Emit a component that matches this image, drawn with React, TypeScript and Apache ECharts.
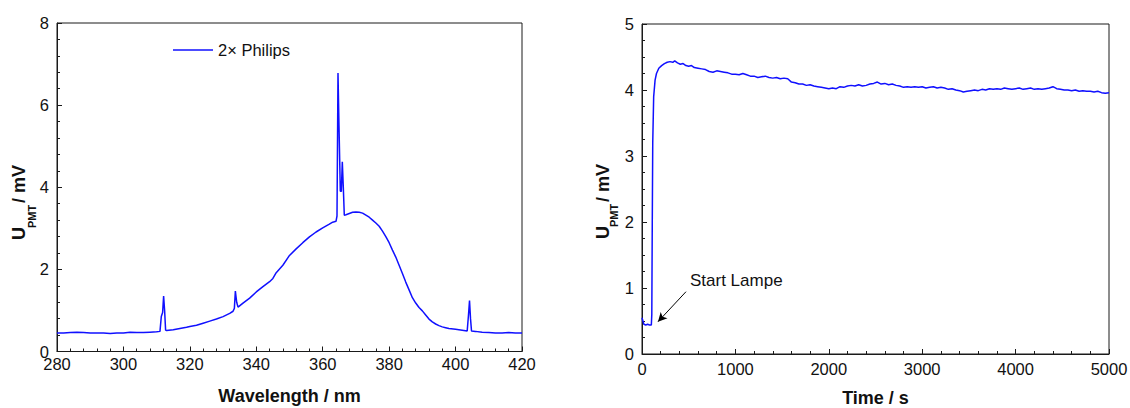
import React, { useEffect, useRef } from "react";
import * as echarts from "echarts";

// Left panel: emission spectrum
const wavelength = [
  280, 282, 284, 286, 288, 290, 292, 294, 296, 298, 300, 302, 304, 306, 308, 310, 311,
  311.4, 311.8, 312.1, 312.4, 312.7, 313, 315, 317, 319, 320, 322, 324, 326, 328, 330, 332, 333,
  333.4, 333.7, 334.1, 334.5, 336, 338, 340, 342, 344, 345, 346, 348, 350, 352, 354, 356, 358,
  360, 362, 363, 364, 364.3, 364.6, 364.9, 365.3, 365.6, 365.9, 366.2, 366.5, 367, 368, 369, 370,
  371, 372, 373, 374, 375, 376, 377, 378, 379, 380, 381, 382, 383, 384, 385, 386, 387, 388, 389,
  390, 391, 392, 393, 394, 395, 396, 397, 398, 400, 402, 403.5, 403.9, 404.2, 404.5, 404.8, 406,
  408, 410, 412, 414, 416, 418, 420,
];
const signal = [
  0.45, 0.45, 0.46, 0.47, 0.46, 0.45, 0.45, 0.45, 0.44, 0.45, 0.45, 0.47, 0.46, 0.46, 0.47, 0.48, 0.49,
  0.85, 0.95, 1.35, 1.0, 0.52, 0.51, 0.53, 0.56, 0.59, 0.61, 0.64, 0.69, 0.74, 0.79, 0.85, 0.93, 0.98,
  1.05, 1.47, 1.2, 1.08, 1.18, 1.3, 1.45, 1.58, 1.7, 1.78, 1.92, 2.1, 2.34, 2.5, 2.65, 2.79, 2.91,
  3.01, 3.1, 3.15, 3.17, 3.3, 6.78, 5.5, 3.9, 3.9, 4.62, 4.0, 3.32, 3.33, 3.36, 3.39, 3.4,
  3.39, 3.37, 3.32, 3.27, 3.2, 3.13, 3.05, 2.93, 2.8, 2.65, 2.47, 2.3, 2.1, 1.9, 1.69, 1.5, 1.31, 1.18, 1.07,
  0.99, 0.89, 0.79, 0.72, 0.67, 0.63, 0.6, 0.58, 0.56, 0.54, 0.52, 0.5, 0.9, 1.24, 0.8, 0.5, 0.49,
  0.47, 0.46, 0.45, 0.45, 0.46, 0.45, 0.45,
];

// Right panel: time course
const timeS = [
  0, 10, 20, 40, 60, 80, 100, 105, 110, 115, 125, 140, 155, 180, 210, 240, 270, 300, 330, 350, 380,
  410, 440, 470, 500, 530, 560, 600, 640, 680, 720, 760, 800, 840, 880, 920, 960, 1000, 1040, 1080,
  1120, 1160, 1200, 1240, 1280, 1320, 1360, 1400, 1440, 1480, 1520, 1560, 1600, 1640, 1680, 1720,
  1760, 1800, 1840, 1880, 1920, 1960, 2000, 2040, 2080, 2120, 2160, 2200, 2240, 2280, 2320, 2360,
  2400, 2440, 2480, 2520, 2560, 2600, 2640, 2680, 2720, 2760, 2800, 2840, 2880, 2920, 2960, 3000,
  3040, 3080, 3120, 3160, 3200, 3240, 3280, 3320, 3360, 3400, 3440, 3480, 3520, 3560, 3600, 3640,
  3680, 3720, 3760, 3800, 3840, 3880, 3920, 3960, 4000, 4040, 4080, 4120, 4160, 4200, 4240, 4280,
  4320, 4360, 4400, 4440, 4480, 4520, 4560, 4600, 4640, 4680, 4720, 4760, 4800, 4840, 4880, 4920,
  4960, 5000,
];
const voltage = [
  0.55, 0.5, 0.45, 0.44, 0.45, 0.44, 0.44, 0.6, 2.0, 3.2, 3.9, 4.15, 4.25, 4.33, 4.37, 4.4, 4.42, 4.43, 4.42, 4.44, 4.41,
  4.39, 4.4, 4.37, 4.36, 4.37, 4.34, 4.33, 4.32, 4.31, 4.28, 4.27, 4.29, 4.28, 4.27, 4.26, 4.24, 4.24, 4.23, 4.25,
  4.23, 4.21, 4.21, 4.19, 4.2, 4.21, 4.19, 4.18, 4.19, 4.17, 4.18, 4.17, 4.12, 4.11, 4.09, 4.09,
  4.07, 4.08, 4.06, 4.05, 4.04, 4.03, 4.02, 4.03, 4.02, 4.05, 4.04, 4.06, 4.07, 4.06, 4.08, 4.06,
  4.07, 4.09, 4.1, 4.12, 4.09, 4.1, 4.08, 4.09, 4.07, 4.06, 4.04, 4.05, 4.04, 4.05, 4.04, 4.05,
  4.03, 4.04, 4.05, 4.03, 4.04, 4.03, 4.01, 4.02, 4.0, 3.99, 3.97, 3.98, 3.99, 4.0, 3.99, 4.01,
  4.0, 4.02, 4.01, 4.02, 4.01, 4.03, 4.02, 4.01, 4.02, 4.03, 4.01, 4.02, 4.03, 4.01, 4.02, 4.01,
  4.02, 4.03, 4.05, 4.02, 4.01, 4.0, 4.0, 3.99, 4.0, 3.98, 3.99, 3.98, 3.98, 3.97, 3.98, 3.96,
  3.95, 3.96,
];

// Annotation arrow (data coordinates, right panel)
const arrowFrom = [471, 0.944];
const arrowTo = [171, 0.489];

const FONT = "Liberation Sans, Arial, sans-serif";
const BLUE = "#1010ff";
const AXIS = "#1a1a1a";

function axisCommon(min: number, max: number, interval: number, split: number, margin: number) {
  return {
    type: "value" as const,
    min,
    max,
    interval,
    axisLine: { show: true, onZero: false, lineStyle: { color: AXIS, width: 1 } },
    axisTick: { show: true, inside: true, length: 5, lineStyle: { color: AXIS, width: 1 } },
    minorTick: { show: true, splitNumber: split, length: 3, lineStyle: { color: AXIS, width: 1 } },
    splitLine: { show: false },
    minorSplitLine: { show: false },
    axisLabel: {
      show: true,
      margin,
      color: "#111",
      fontSize: 16.5,
      lineHeight: 12,
      fontFamily: FONT,
      showMinLabel: true,
      showMaxLabel: true,
      hideOverlap: false,
      formatter: (v: number) => String(v),
    },
  };
}

function yTitle(xU: number, xSub: number, yStart: number) {
  const common = { fontFamily: FONT, fontWeight: "bold", fill: "#111" };
  return [
    {
      type: "text",
      x: xU,
      y: yStart,
      rotation: Math.PI / 2,
      style: { ...common, text: "U", fontSize: 18, align: "left", verticalAlign: "middle" },
    },
    {
      type: "text",
      x: xSub,
      y: yStart - 12,
      rotation: Math.PI / 2,
      style: { ...common, text: "PMT", fontSize: 11, align: "left", verticalAlign: "middle" },
    },
    {
      type: "text",
      x: xU,
      y: yStart - 32,
      rotation: Math.PI / 2,
      style: { ...common, text: " / mV", fontSize: 18, align: "left", verticalAlign: "middle" },
    },
  ];
}

export default function App() {
  const ref = useRef<HTMLDivElement>(null);

  useEffect(() => {
    if (!ref.current) return;
    const chart = echarts.init(ref.current, null, { renderer: "svg" });
    const spec = wavelength.map((w, i) => [w, signal[i]]);
    const course = timeS.map((t, i) => [t, voltage[i]]);

    chart.setOption({
      animation: false,
      backgroundColor: "#fff",
      textStyle: { fontFamily: FONT },
      grid: [
        {
          left: 57, top: 23, width: 465, height: 328.5,
          containLabel: false, outerBoundsMode: "none",
          show: true, borderColor: AXIS, borderWidth: 1, backgroundColor: "transparent",
        },
        {
          left: 642, top: 24, width: 467, height: 330,
          containLabel: false, outerBoundsMode: "none",
          show: true, borderColor: AXIS, borderWidth: 1, backgroundColor: "transparent",
        },
      ],
      xAxis: [
        {
          ...axisCommon(280, 420, 20, 5, 6),
          gridIndex: 0,
          name: "Wavelength / nm",
          nameLocation: "middle",
          nameGap: 35,
          nameTextStyle: { fontSize: 18, fontWeight: "bold", color: "#111", fontFamily: FONT },
        },
        {
          ...axisCommon(0, 5000, 1000, 5, 9),
          gridIndex: 1,
          name: "Time / s",
          nameLocation: "middle",
          nameGap: 35,
          nameTextStyle: { fontSize: 18, fontWeight: "bold", color: "#111", fontFamily: FONT },
        },
      ],
      yAxis: [
        { ...axisCommon(0, 8, 2, 5, 8), gridIndex: 0 },
        { ...axisCommon(0, 5, 1, 4, 8), gridIndex: 1 },
      ],
      series: [
        {
          name: "2× Philips",
          type: "line",
          xAxisIndex: 0,
          yAxisIndex: 0,
          data: spec,
          symbol: "none",
          showSymbol: false,
          lineStyle: { color: BLUE, width: 1.5 },
          itemStyle: { color: BLUE },
          z: 3,
        },
        {
          name: "course",
          type: "line",
          xAxisIndex: 1,
          yAxisIndex: 1,
          data: course,
          symbol: "none",
          showSymbol: false,
          lineStyle: { color: BLUE, width: 1.5 },
          itemStyle: { color: BLUE },
          z: 3,
          markLine: {
            silent: true,
            animation: false,
            symbol: ["none", "arrow"],
            symbolSize: [7, 9],
            label: { show: false },
            lineStyle: { color: "#000", width: 1, type: "solid" },
            data: [[{ coord: arrowFrom }, { coord: arrowTo }]],
          },
        },
      ],
      graphic: [
        ...yTitle(19, 31.5, 240),
        ...yTitle(602.5, 614, 239),
        {
          type: "line",
          shape: { x1: 173, y1: 50, x2: 213, y2: 50 },
          style: { stroke: BLUE, lineWidth: 1.5 },
        },
        {
          type: "text",
          x: 218,
          y: 50,
          style: {
            text: "2× Philips",
            fontSize: 16.5,
            fontFamily: FONT,
            fill: "#111",
            align: "left",
            verticalAlign: "middle",
          },
        },
        {
          type: "text",
          x: 690,
          y: 280,
          style: {
            text: "Start Lampe",
            fontSize: 17,
            fontFamily: FONT,
            fill: "#111",
            align: "left",
            verticalAlign: "middle",
          },
        },
      ],
    });
    return () => chart.dispose();
  }, []);

  return (
    <div
      ref={ref}
      style={{ position: "fixed", left: 0, top: 0, width: 1130, height: 408, background: "#fff" }}
    />
  );
}
